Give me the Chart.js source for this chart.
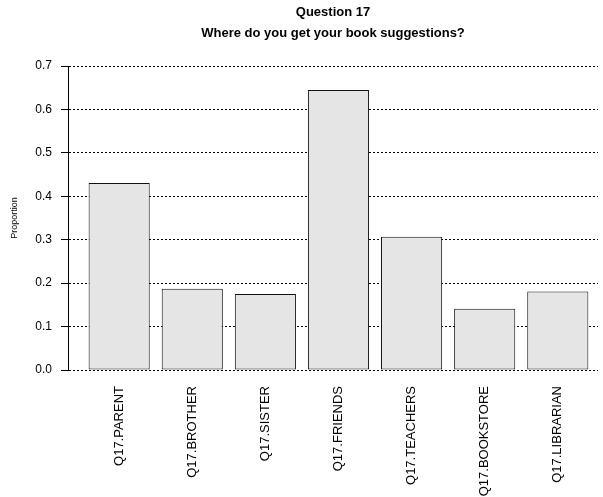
<!DOCTYPE html>
<html>
<head>
<meta charset="utf-8">
<script src="https://cdn.jsdelivr.net/npm/chart.js@4"></script>
<style>
  html, body { margin: 0; padding: 0; background: #fff; }
  #wrap { width: 603px; height: 497px; }
</style>
</head>
<body>
<div id="wrap"><canvas id="chart" width="603" height="497"></canvas></div>
<script>
// ===== data =====
const titleLines = ["Question 17", "Where do you get your book suggestions?"];
const categories = ["Q17.PARENT", "Q17.BROTHER", "Q17.SISTER", "Q17.FRIENDS",
                    "Q17.TEACHERS", "Q17.BOOKSTORE", "Q17.LIBRARIAN"];
const proportions = [0.431, 0.187, 0.175, 0.645, 0.307, 0.141, 0.181];
const yTicks = [0.0, 0.1, 0.2, 0.3, 0.4, 0.5, 0.6, 0.7];

// ===== chart =====
const ctx = document.getElementById("chart").getContext("2d");

const chart = new Chart(ctx, {
    type: "bar",
    data: {
        datasets: [{
            data: proportions.map((v, i) => ({ x: i, y: v })),
            backgroundColor: "#e5e5e5",
            borderColor: "#111",
            borderWidth: 1,
            borderSkipped: false,
            categoryPercentage: 1,
            barPercentage: 0.836,
        }],
    },
    options: {
        responsive: false,
        animation: false,
        layout: { padding: { left: 0, right: 5, top: 0, bottom: 0 } },
        plugins: {
            legend: { display: false },
            tooltip: { enabled: false },
            title: {
                display: true,
                text: titleLines,
                fullSize: false,
                color: "#000",
                font: { family: "Liberation Sans", size: 13, weight: "bold", lineHeight: 1.62 },
                padding: { top: 2, bottom: 22 },
            },
        },
        scales: {
            x: {
                type: "linear",
                offset: false,
                min: -0.7,
                max: 6.55,
                afterFit: s => { s.height = 127; },
                afterBuildTicks: s => { s.ticks = categories.map((_, i) => ({ value: i })); },
                grid: { display: false, drawTicks: false, offset: false },
                border: { display: false },
                ticks: {
                    autoSkip: false,
                    minRotation: 90,
                    maxRotation: 90,
                    padding: 16,
                    color: "#000",
                    font: { family: "Liberation Sans", size: 13 },
                    callback: v => categories[v] ?? "",
                },
            },
            y: {
                min: 0,
                max: 0.7,
                afterFit: s => { s.width = 68; },
                afterBuildTicks: s => { s.ticks = yTicks.map(v => ({ value: v })); },
                grid: {
                    color: "#000",
                    lineWidth: 1,
                    tickLength: 7,
                    tickColor: "#000",
                },
                border: { display: true, color: "#000", width: 1, dash: [2, 2] },
                ticks: {
                    padding: 9,
                    color: "#000",
                    font: { family: "Liberation Sans", size: 12 },
                    callback: v => v.toFixed(1),
                },
                title: {
                    display: true,
                    text: "Proportion",
                    color: "#000",
                    font: { family: "Liberation Sans", size: 9 },
                    padding: { top: 9 },
                },
            },
        },
    },
});
</script>
</body>
</html>
